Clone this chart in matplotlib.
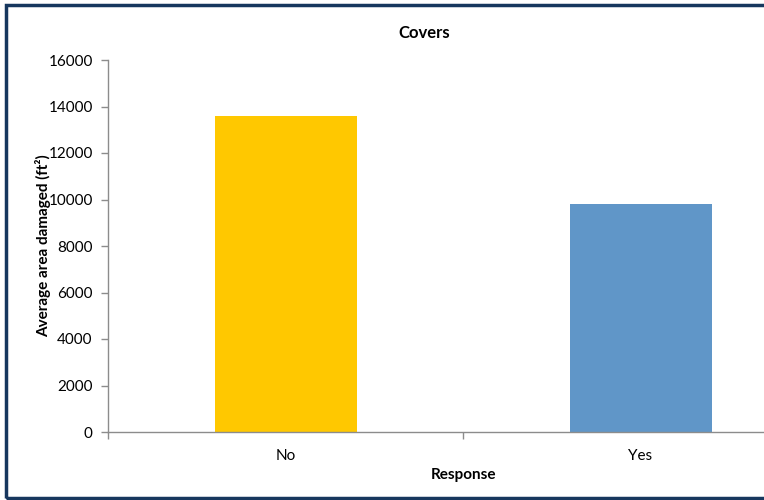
import matplotlib
matplotlib.use("Agg")
import matplotlib.pyplot as plt
from matplotlib.patches import Rectangle

# survey results: average damaged area by whether covers were used
responses = ["No", "Yes"]
avg_area = [13600, 9800]
bar_colors = ["#FFC800", "#6096C8"]
y_ticks = [0, 2000, 4000, 6000, 8000, 10000, 12000, 14000, 16000]

plt.rcParams['font.family'] = ['Lato', 'DejaVu Sans']

W, H = 764, 500
fig = plt.figure(figsize=(W / 100, H / 100), dpi=100)

# plot area runs past the right edge of the frame
ax = fig.add_axes([108 / W, 68 / H, 710 / W, 372 / H])

x = range(len(responses))
ax.bar(x, avg_area, width=0.4, color=bar_colors, zorder=2)

ax.set_xlim(-0.5, 1.5)
ax.set_ylim(0, 16000)
ax.set_yticks(y_ticks)
ax.set_yticklabels([str(v) for v in y_ticks], fontsize=11)
ax.set_xticks(list(x))
ax.set_xticklabels(responses, fontsize=11)
ax.set_xticks([-0.5, 0.5, 1.5], minor=True)

gray = "#8C8C8C"
for side in ["top", "right"]:
    ax.spines[side].set_visible(False)
for side in ["left", "bottom"]:
    ax.spines[side].set_color(gray)
    ax.spines[side].set_linewidth(1.0)

ax.tick_params(axis="y", direction="out", length=5, color=gray, width=1.0, pad=6)
ax.tick_params(axis="x", which="major", length=0, pad=12)
ax.tick_params(axis="x", which="minor", direction="out", length=5, color=gray, width=1.0)

fig.text(424 / W, 1 - 33 / H, "Covers", ha="center", va="center",
         fontsize=12, fontweight="bold")
fig.text(43 / W, 1 - 246 / H, "Average area damaged (ft²)", ha="center", va="center",
         rotation=90, fontsize=11, fontweight="bold")
fig.text(463 / W, 1 - 475 / H, "Response", ha="center", va="center",
         fontsize=11, fontweight="bold")

# dark frame around the chart
fig.patches.append(Rectangle((5.5 / W, 2.5 / H), 1.2, 1 - 7.5 / H,
                             transform=fig.transFigure, fill=False,
                             edgecolor="#17375E", linewidth=2.5))

fig.savefig("out.png", dpi=100)
